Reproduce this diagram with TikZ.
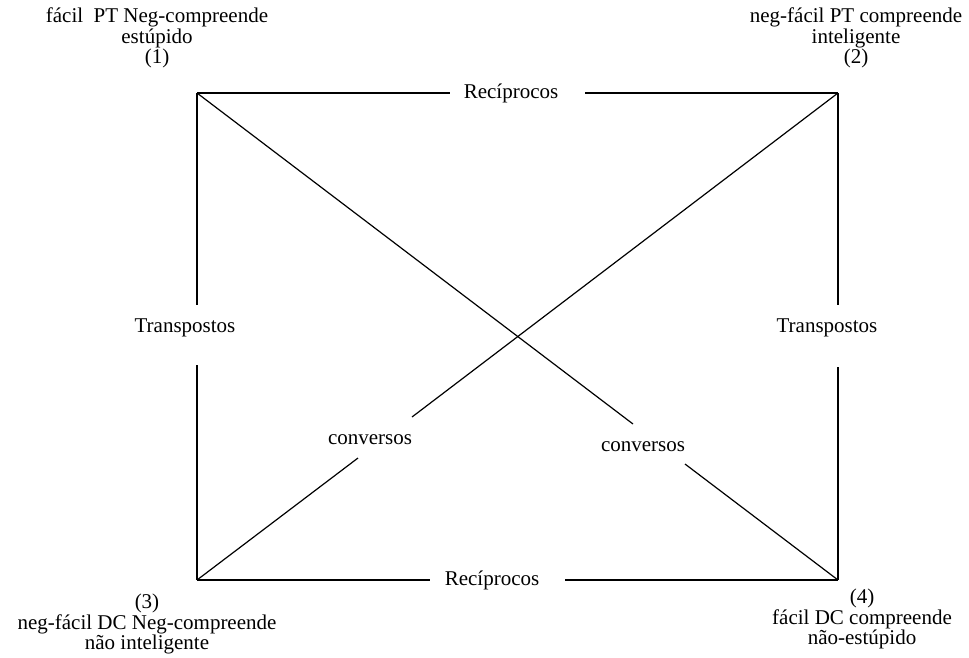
\documentclass[tikz,border=0pt]{standalone}
\usepackage{fontspec}
\setmainfont{Liberation Serif}
\begin{document}
\begin{tikzpicture}[x=1pt,y=-1pt,
  lbl/.style={font=\fontsize{21}{20.5}\selectfont, inner sep=0pt, align=center},
  side/.style={line width=1.2pt}]
\useasboundingbox (0,0) rectangle (969,657);

% corners of the square
\coordinate (c1) at (197,93);
\coordinate (c2) at (838,93);
\coordinate (c3) at (197,580);
\coordinate (c4) at (838,580);

% corner texts
\node[lbl] (n1) at (157,38) {fácil\ \ PT Neg-compreende\\estúpido\\(1)};
\node[lbl] (n2) at (856,38) {neg-fácil PT compreende\\inteligente\\(2)};
\node[lbl] (n3) at (147,624) {(3)\\neg-fácil DC Neg-compreende\\não inteligente};
\node[lbl] (n4) at (862,619) {(4)\\fácil DC compreende\\não-estúpido};

% relation names
\node[lbl] (recA) at (511,93) {Recíprocos};
\node[lbl] (recB) at (492,580) {Recíprocos};
\node[lbl] (traA) at (185,328) {Transpostos};
\node[lbl] (traB) at (827,328) {Transpostos};
\node[lbl] (conA) at (370,440) {conversos};
\node[lbl] (conB) at (643,447) {conversos};

% where the lines break for the names
\coordinate (t1) at (450,93);  \coordinate (t2) at (585,93);
\coordinate (b1) at (430,580); \coordinate (b2) at (565,580);
\coordinate (l1) at (197,305); \coordinate (l2) at (197,365);
\coordinate (r1) at (838,305); \coordinate (r2) at (838,367);
\coordinate (d1) at (633,424); \coordinate (d2) at (685,464);
\coordinate (e1) at (412,417); \coordinate (e2) at (358,458);

\draw[side] (c1) -- (t1);  \draw[side] (t2) -- (c2);
\draw[side] (c3) -- (b1);  \draw[side] (b2) -- (c4);
\draw[side] (c1) -- (l1);  \draw[side] (l2) -- (c3);
\draw[side] (c2) -- (r1);  \draw[side] (r2) -- (c4);
\draw[side] (c1) -- (d1);  \draw[side] (d2) -- (c4);
\draw[side] (c2) -- (e1);  \draw[side] (e2) -- (c3);

\end{tikzpicture}
\end{document}
